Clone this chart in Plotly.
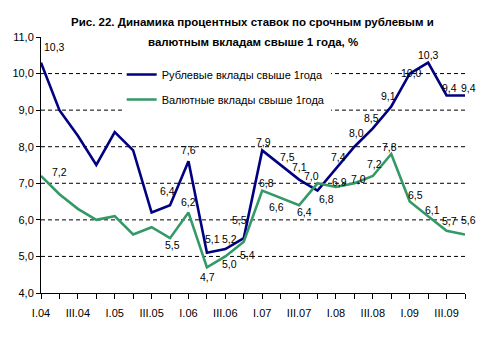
import plotly.graph_objects as go

categories = ["I.04", "II.04", "III.04", "IV.04",
              "I.05", "II.05", "III.05", "IV.05",
              "I.06", "II.06", "III.06", "IV.06",
              "I.07", "II.07", "III.07", "IV.07",
              "I.08", "II.08", "III.08", "IV.08",
              "I.09", "II.09", "III.09", "IV.09"]
rub = [10.3, 9.0, 8.3, 7.5, 8.4, 7.9, 6.2, 6.4, 7.6, 5.1, 5.2, 5.5,
       7.9, 7.5, 7.1, 6.8, 7.4, 8.0, 8.5, 9.1, 10.0, 10.3, 9.4, 9.4]
val = [7.2, 6.7, 6.3, 6.0, 6.1, 5.6, 5.8, 5.5, 6.2, 4.7, 5.0, 5.4,
       6.8, 6.6, 6.4, 7.0, 6.9, 7.0, 7.2, 7.8, 6.5, 6.1, 5.7, 5.6]
rub_name = "Рублевые вклады свыше 1года"
val_name = "Валютные вклады свыше 1года"
title_lines = ["Рис. 22. Динамика процентных ставок по срочным рублевым и",
               "валютным вкладам свыше 1 года, %"]
y_ticks = [4, 5, 6, 7, 8, 9, 10, 11]
grid_vals = [5, 6, 7, 8, 9, 10]

# label placement (index: (dx, dy) px)
rub_lbl = {0: (13, 16), 7: (-3, 14), 8: (0, 11), 9: (6, 14), 10: (4, 10), 11: (-4, 18),
           12: (1, 8), 13: (7, 8), 14: (0, 13), 15: (9, -8), 16: (3, 12), 17: (2, 14),
           18: (-1, 10), 19: (-3, 10), 20: (2, 1), 21: (0, 8), 22: (3, 8), 23: (3, 8)}
val_lbl = {0: (18, 4), 7: (2, -7), 8: (0, 11), 9: (1, -10), 10: (4, -8), 11: (4, -13),
           12: (4, 8), 13: (-4, -9), 14: (5, -7), 15: (-6, 7), 16: (4, 5), 17: (4, 4),
           18: (2, 12), 19: (-2, 7), 20: (6, 7), 21: (4, 6), 22: (3, 10), 23: (3, 14)}

W, H = 485, 345
L, R, T, B = 34, 20, 37, 52
FONT = "Arial, Liberation Sans, sans-serif"

xi = list(range(len(categories)))
ticktext = [c if i % 2 == 0 else "" for i, c in enumerate(categories)]

fig = go.Figure()
fig.add_trace(go.Scatter(x=xi, y=rub, mode="lines", name=rub_name, legendgroup="r",
                         line=dict(color="#000080", width=2.6)))
fig.add_trace(go.Scatter(x=xi, y=val, mode="lines", name=val_name, legendgroup="v",
                         line=dict(color="#339966", width=2.6)))

def fmt(v):
    return f"{v:.1f}".replace(".", ",")

ann = []
for series, lbl in ((rub, rub_lbl), (val, val_lbl)):
    for i, (dx, dy) in lbl.items():
        ann.append(dict(x=xi[i], y=series[i], text=fmt(series[i]), showarrow=False,
                        xshift=dx, yshift=dy, font=dict(family=FONT, size=10.5, color="black")))

ph = H - T - B
def py(pix):
    return (H - B - pix) / ph

for k, (line, ypix) in enumerate(zip(title_lines, [22, 42])):
    ann.append(dict(xref="paper", yref="paper", x=(249 - L) / (W - L - R), y=py(ypix),
                    text="<b>" + line + "</b>", showarrow=False, xanchor="center", yanchor="middle",
                    font=dict(family=FONT, size=11.5, color="black")))

shapes = [dict(type="line", xref="paper", x0=0, x1=1, yref="y", y0=g, y1=g, layer="below",
               line=dict(color="black", width=1, dash="4px,3px")) for g in grid_vals]

fig.update_layout(
    width=W, height=H, margin=dict(l=L, r=R, t=T, b=B),
    paper_bgcolor="white", plot_bgcolor="white",
    separators=", ",
    font=dict(family=FONT, size=11, color="black"),
    showlegend=True,
    legend=dict(x=(116 - L) / (W - L - R), y=py(60), xanchor="left", yanchor="top",
                bgcolor="white", itemwidth=30, tracegroupgap=6,
                font=dict(family=FONT, size=11, color="black")),
    annotations=ann, shapes=shapes,
    xaxis=dict(range=[0, len(categories) - 1], tickmode="array", tickvals=xi, ticktext=ticktext,
               ticks="outside", ticklen=5, tickcolor="black", showline=True, linecolor="black",
               linewidth=1, showgrid=False, zeroline=False, tickangle=0, ticklabelstandoff=5,
               tickfont=dict(family=FONT, size=11, color="black")),
    yaxis=dict(range=[4, 11], tickmode="array", tickvals=y_ticks, tickformat=".1f",
               ticks="outside", ticklen=4, tickcolor="black", showline=True, linecolor="black",
               linewidth=1, showgrid=False, zeroline=False,
               tickfont=dict(family=FONT, size=11, color="black")),
)
fig.write_html("out.html")
